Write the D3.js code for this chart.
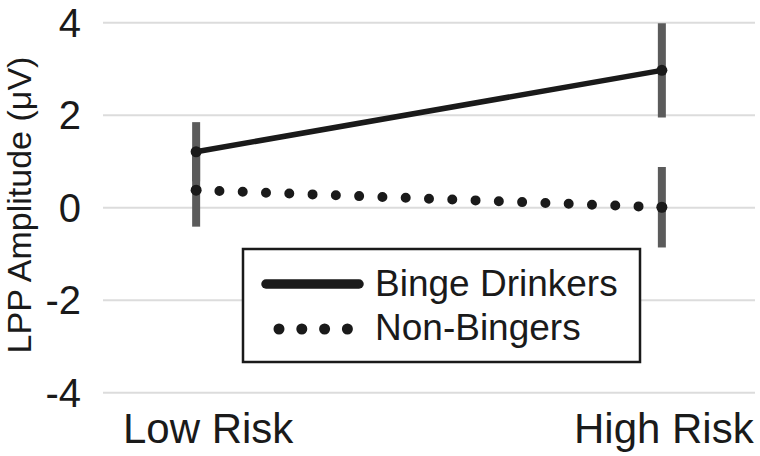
<!DOCTYPE html>
<html>
<head>
<meta charset="utf-8">
<script src="https://cdn.jsdelivr.net/npm/d3@7.9.0/dist/d3.min.js"></script>
<style>
  body { margin: 0; background: #fff; }
  svg { display: block; font-family: "Liberation Sans", Arial, sans-serif; }
</style>
</head>
<body>
<svg id="chart" width="760" height="456"></svg>
<script>
// chart data
const categories = ["Low Risk", "High Risk"];
const bingeMeans = [1.21, 2.97];
const bingeErr = [0.64, 1.02];
const nonMeans = [0.38, 0.01];
const nonErr = [0.79, 0.87];
const yTicks = [-4, -2, 0, 2, 4];
const seriesNames = ["Binge Drinkers", "Non-Bingers"];

const svg = d3.select("#chart");

const x = d3.scalePoint().domain(categories).range([103, 755]).padding(0.2);
const y = d3.scaleLinear().domain([-4, 4]).range([392.7, 22.7]);

// gridlines
svg.append("g")
  .selectAll("line")
  .data(yTicks)
  .join("line")
  .attr("x1", 103).attr("x2", 755)
  .attr("y1", d => y(d)).attr("y2", d => y(d))
  .attr("stroke", "#dcdcdc")
  .attr("stroke-width", 2);

// y tick labels
svg.append("g")
  .selectAll("text")
  .data(yTicks)
  .join("text")
  .attr("x", 81)
  .attr("y", d => y(d))
  .attr("dy", "0.35em")
  .attr("text-anchor", "end")
  .attr("font-size", 40)
  .attr("fill", "#1a1a1a")
  .text(d => d);

// y axis title
svg.append("text")
  .attr("transform", "translate(31,205) rotate(-90)")
  .attr("text-anchor", "middle")
  .attr("font-size", 34)
  .attr("fill", "#1a1a1a")
  .text("LPP Amplitude (μV)");

// x labels (low risk label sits a little right of its point in the original)
svg.append("g")
  .selectAll("text")
  .data(categories)
  .join("text")
  .attr("x", d => x(d))
  .attr("dx", (d, i) => i === 0 ? 12 : 2)
  .attr("y", 443)
  .attr("text-anchor", "middle")
  .attr("font-size", 42)
  .attr("fill", "#1a1a1a")
  .text(d => d);

// error bars (both series)
const bars = [];
categories.forEach((c, i) => {
  bars.push({ c, lo: bingeMeans[i] - bingeErr[i], hi: bingeMeans[i] + bingeErr[i] });
  bars.push({ c, lo: nonMeans[i] - nonErr[i], hi: nonMeans[i] + nonErr[i] });
});
svg.append("g")
  .selectAll("line")
  .data(bars)
  .join("line")
  .attr("x1", d => x(d.c)).attr("x2", d => x(d.c))
  .attr("y1", d => y(d.hi)).attr("y2", d => y(d.lo))
  .attr("stroke", "#5b5b5b")
  .attr("stroke-width", 8);

const line = d3.line().x((d, i) => x(categories[i])).y(d => y(d));

// binge drinkers: solid line
svg.append("path")
  .datum(bingeMeans)
  .attr("d", line)
  .attr("fill", "none")
  .attr("stroke", "#1a1a1a")
  .attr("stroke-width", 5.5);

// non-bingers: round-dot line
svg.append("path")
  .datum(nonMeans)
  .attr("d", line)
  .attr("fill", "none")
  .attr("stroke", "#1a1a1a")
  .attr("stroke-width", 10)
  .attr("stroke-linecap", "round")
  .attr("stroke-dasharray", "0 23.3");

// end markers
const markers = categories.flatMap((c, i) => [
  { c, v: bingeMeans[i] }, { c, v: nonMeans[i] }
]);
svg.append("g")
  .selectAll("circle")
  .data(markers)
  .join("circle")
  .attr("cx", d => x(d.c))
  .attr("cy", d => y(d.v))
  .attr("r", 5.5)
  .attr("fill", "#1a1a1a");

// legend
const lg = svg.append("g");
lg.append("rect")
  .attr("x", 243).attr("y", 249)
  .attr("width", 397).attr("height", 113)
  .attr("fill", "#fff")
  .attr("stroke", "#1a1a1a")
  .attr("stroke-width", 2.5);

lg.append("line")
  .attr("x1", 266).attr("x2", 359)
  .attr("y1", 284).attr("y2", 284)
  .attr("stroke", "#1a1a1a")
  .attr("stroke-width", 9.5)
  .attr("stroke-linecap", "round");

lg.append("line")
  .attr("x1", 279).attr("x2", 348)
  .attr("y1", 329).attr("y2", 329)
  .attr("stroke", "#1a1a1a")
  .attr("stroke-width", 11)
  .attr("stroke-linecap", "round")
  .attr("stroke-dasharray", "0 22.8");

lg.selectAll("text.lab")
  .data(seriesNames)
  .join("text")
  .attr("class", "lab")
  .attr("x", 375)
  .attr("y", (d, i) => 296 + i * 44)
  .attr("font-size", 37)
  .attr("fill", "#1a1a1a")
  .text(d => d);
</script>
</body>
</html>
